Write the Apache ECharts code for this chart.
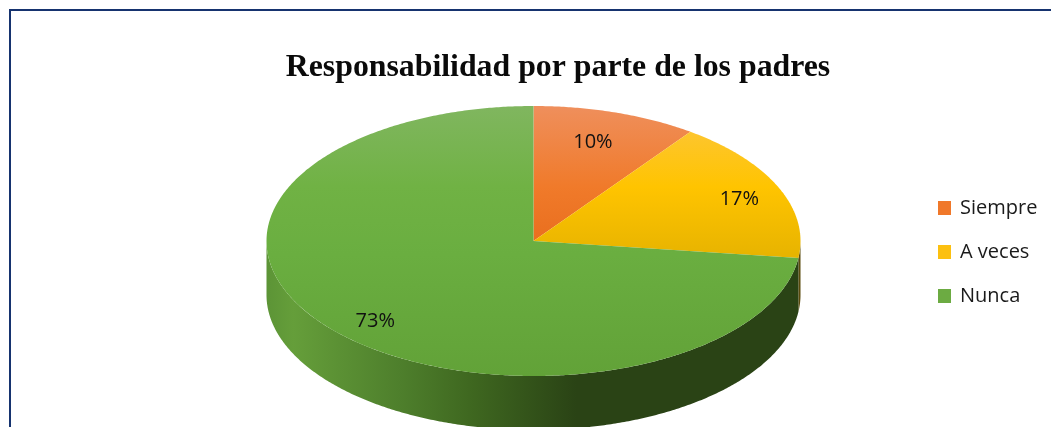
<!DOCTYPE html>
<html><head><meta charset="utf-8">
<style>html,body{margin:0;padding:0;background:#fff}#c{width:1051px;height:427px}</style>
<script src="https://cdn.jsdelivr.net/npm/echarts@6/dist/echarts.min.js"></script>
</head><body><div id="c"></div>
<script>
const titleText = 'Responsabilidad por parte de los padres';
const categories = ['Siempre', 'A veces', 'Nunca'];
const values = [10, 17, 73];

const topStops = [
  ['#ef8f5c', '#f07a2a', '#e86c1c', '#e86c1c'],
  ['#fcc643', '#ffc400', '#e8b400', '#e8b400'],
  ['#80b65f', '#70b244', '#6aae40', '#62a238']
];
const sideStops = [
  ['#8a4a1a', '#8a4a1a'],
  ['#6e5a10', '#5a4a0c'],
  null
];
const labelOffset = [[0.72, 0.77], [0.84, 0.78], [0.79, 0.9]];
const legendColors = ['#f0782a', '#fcc010', '#6cab42'];

const cx = 533.5, cy = 241, rx = 267, ry = 135, depth = 54;
const total = values.reduce((a, b) => a + b, 0);
const G = echarts.graphic.LinearGradient;

function pt(deg, dy) {
  const a = deg * Math.PI / 180;
  return [cx + rx * Math.sin(a), cy - ry * Math.cos(a) + (dy || 0)];
}
function arc(from, to, dy) {
  const pts = [], n = Math.max(2, Math.ceil(Math.abs(to - from) * 2));
  for (let i = 0; i <= n; i++) pts.push(pt(from + (to - from) * i / n, dy));
  return pts;
}
function makeRender(idx) {
  return function (params, api) {
    const v = api.value(0);
    let start = 0;
    for (let i = 0; i < idx; i++) start += values[i];
    const a0 = start / total * 360, a1 = a0 + v / total * 360;
    const children = [];
    const s0 = Math.max(a0, 90), s1 = Math.min(a1, 270);
    if (s1 > s0) {
      const poly = arc(s0, s1, 0).concat(arc(s1, s0, depth));
      const fill = sideStops[idx]
        ? new G(cx, 0, cx + rx, 0, [{offset: 0, color: sideStops[idx][0]}, {offset: 1, color: sideStops[idx][1]}], true)
        : new G(cx - rx, 0, cx + rx, 0, [
            {offset: 0, color: '#5c9436'}, {offset: 0.05, color: '#659e3a'},
            {offset: 0.25, color: '#4e7f2c'}, {offset: 0.38, color: '#3f6820'},
            {offset: 0.58, color: '#2a4315'}, {offset: 1, color: '#2a4315'}], true);
      children.push({type: 'polygon', shape: {points: poly}, style: {fill: fill}});
    }
    const s = topStops[idx];
    const topFill = new G(0, cy - ry, 0, cy + ry, [
      {offset: 0, color: s[0]}, {offset: 0.3, color: s[1]},
      {offset: 0.55, color: s[2]}, {offset: 1, color: s[3]}], true);
    children.push({type: 'polygon', shape: {points: [[cx, cy]].concat(arc(a0, a1, 0))}, style: {fill: topFill}});
    const mid = (a0 + a1) / 2 * Math.PI / 180;
    const off = labelOffset[idx];
    children.push({
      type: 'text', z2: 10,
      style: {
        text: Math.round(v / total * 100) + '%',
        x: cx + rx * off[0] * Math.sin(mid),
        y: cy - ry * off[1] * Math.cos(mid),
        fill: '#111', font: '20px "Open Sans"', align: 'center', verticalAlign: 'middle'
      }
    });
    return {type: 'group', children: children};
  };
}

const chart = echarts.init(document.getElementById('c'), null, {renderer: 'canvas'});
chart.setOption({
  animation: false,
  backgroundColor: '#fff',
  title: {
    text: titleText, left: 553, top: 47, textAlign: 'center',
    textStyle: {fontFamily: 'Liberation Serif', fontWeight: 'bold', fontSize: 31.8, color: '#0a0a0a'}
  },
  legend: {
    left: 933, top: 193, orient: 'vertical', icon: 'rect', itemWidth: 13, itemHeight: 14, itemGap: 24,
    itemStyle: {borderWidth: 0},
    data: categories,
    textStyle: {fontFamily: 'Open Sans', fontSize: 20, lineHeight: 20, color: '#1a1a1a', padding: [0, 0, 0, 4]}
  },
  graphic: [{
    type: 'rect', silent: true, z: -1,
    shape: {x: 10, y: 10, width: 1060, height: 430},
    style: {fill: 'none', stroke: '#16336f', lineWidth: 2}
  }],
  series: categories.map((name, i) => ({
    type: 'custom', name: name, coordinateSystem: 'none',
    itemStyle: {color: legendColors[i]},
    renderItem: makeRender(i),
    data: [[values[i]]]
  }))
});
</script></body></html>
